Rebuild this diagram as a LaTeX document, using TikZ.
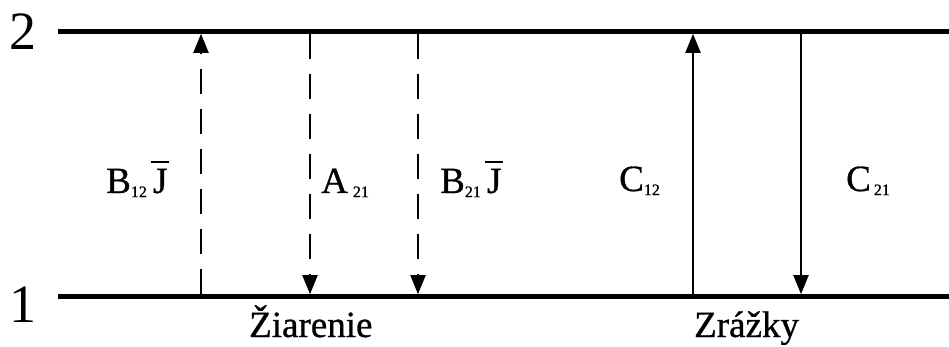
\documentclass[tikz,border=0pt]{standalone}
\usepackage{fontspec}
\setmainfont{Liberation Serif}
\usetikzlibrary{arrows.meta}
\newcommand\Jb{\ooalign{J\cr\hidewidth\rule[0.80em]{0.48em}{0.075em}\hidewidth\cr}}
\newcommand\sbs[1]{\raisebox{-0.11em}{\fontsize{16}{16}\selectfont #1}}
\tikzset{
  level/.style={line width=4.5pt},
  trans/.style={line width=2pt,-{Triangle[length=19pt,width=15pt]}},
  dtrans/.style={trans,dash pattern=on 25pt off 15pt},
  lab/.style={anchor=base west,inner sep=0pt,font=\fontsize{37}{40}\selectfont\addfontfeature{FakeBold=0.8}},
  num/.style={anchor=base west,inner sep=0pt,font=\fontsize{54}{60}\selectfont}
}
\begin{document}
\begin{tikzpicture}[x=1pt,y=-1pt]
\useasboundingbox (0,0) rectangle (949,347);
% levels
\coordinate (l2w) at (58,31.5);
\coordinate (l2e) at (949,31.5);
\coordinate (l1w) at (58,296.5);
\coordinate (l1e) at (949,296.5);
\draw[level] (l2w) -- (l2e);
\draw[level] (l1w) -- (l1e);
\node[num] (n2) at (9,50) {2};
\node[num] (n1) at (9,322) {1};
% transition end points
\foreach \n/\x in {a/201,b/310,c/418,d/693,e/801}{
  \coordinate (\n t) at (\x,33.8);
  \coordinate (\n b) at (\x,294.2);
}
\draw[dtrans] (ab) -- (at);
\draw[dtrans] (bt) -- (bb);
\draw[dtrans] (ct) -- (cb);
\draw[trans] (db) -- (dt);
\draw[trans] (et) -- (eb);
% labels
\node[lab] (lb12) at (106,193) {B\sbs{12}\,\Jb};
\node[lab] (la21) at (321,193) {A\kern5pt\sbs{21}};
\node[lab] (lb21) at (440,193) {B\sbs{21}\,\Jb};
\node[lab] (lc12) at (619,191) {C\sbs{12}};
\node[lab] (lc21) at (846,191) {C\kern3pt\sbs{21}};
\node[lab] (zi) at (249,337) {Žiarenie};
\node[lab] (zr) at (694,337) {Zrážky};
\end{tikzpicture}
\end{document}
